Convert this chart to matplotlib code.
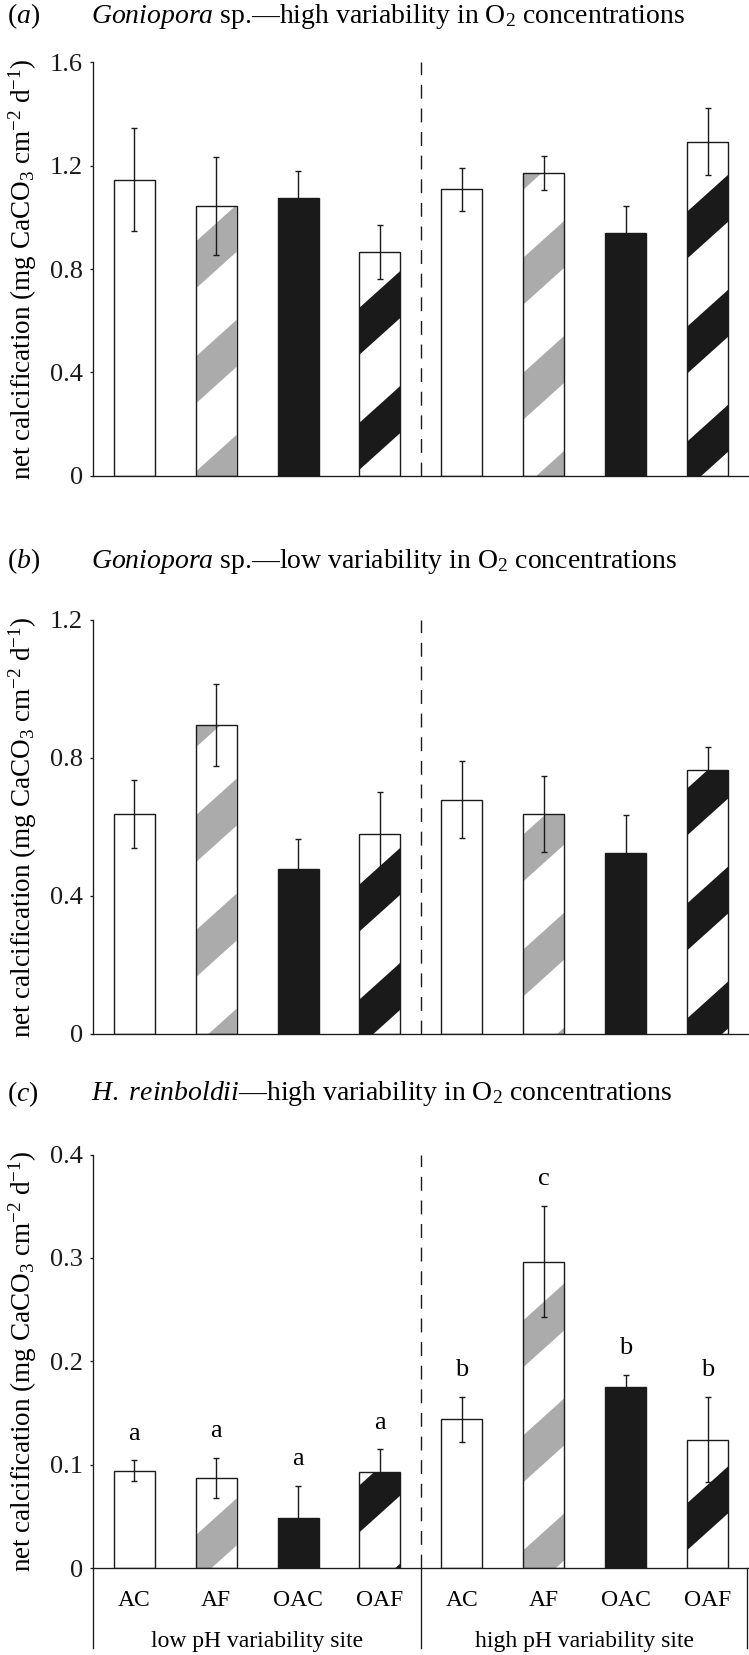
import matplotlib
matplotlib.use("Agg")
import matplotlib.pyplot as plt
from matplotlib.patches import Polygon
from matplotlib.lines import Line2D
from matplotlib.transforms import blended_transform_factory

plt.rcParams['font.family'] = ['Liberation Serif', 'DejaVu Serif']
plt.rcParams['mathtext.fontset'] = 'custom'
plt.rcParams['mathtext.rm'] = 'Liberation Serif'
plt.rcParams['mathtext.it'] = 'Liberation Serif:italic'
plt.rcParams['mathtext.bf'] = 'Liberation Serif:bold'

# ---------------- data ----------------
treatments = ["AC", "AF", "OAC", "OAF", "AC", "AF", "OAC", "OAF"]
sites = ["low pH variability site", "high pH variability site"]

a_mean = [1.146, 1.043, 1.076, 0.865, 1.108, 1.172, 0.938, 1.293]
a_err = [0.200, 0.190, 0.103, 0.105, 0.082, 0.067, 0.107, 0.130]

b_mean = [0.637, 0.895, 0.476, 0.580, 0.679, 0.637, 0.523, 0.765]
b_err = [0.098, 0.118, 0.089, 0.122, 0.113, 0.111, 0.111, 0.067]

c_mean = [0.0945, 0.0874, 0.0484, 0.0929, 0.1439, 0.2965, 0.175, 0.1245]
c_err = [0.010, 0.0195, 0.031, 0.022, 0.022, 0.054, 0.012, 0.041]
c_letters = ["a", "a", "a", "a", "b", "c", "b", "b"]

titles = [r"$\mathit{Goniopora}$ sp.—high variability in O$_2$ concentrations",
          r"$\mathit{Goniopora}$ sp.—low variability in O$_2$ concentrations",
          r"$\mathit{H.\ reinboldii}$—high variability in O$_2$ concentrations"]
panel_tags = [r"($\mathit{a}$)", r"($\mathit{b}$)", r"($\mathit{c}$)"]
yticks_list = [[0, 0.4, 0.8, 1.2, 1.6], [0, 0.4, 0.8, 1.2], [0, 0.1, 0.2, 0.3, 0.4]]
ylabel = r"net calcification (mg CaCO$_3$ cm$^{-2}$ d$^{-1}$)"

# ---------------- style ----------------
W, H = 749, 1655
DARK = "#1a1a1a"
GREY = "#ababab"
face = ["white", "white", DARK, "white"] * 2
stripe = [None, GREY, None, DARK] * 2
# stripe phase (px above bar bottom) per panel / bar
phases = [[0, 72, 0, 6, 0, 56, 0, -13],
          [0, 56, 0, -13, 0, 37, 0, 83],
          [0, -14, 0, 36, 0, 86, 0, 18]]
PERIOD, THICK, SLOPE = 115.0, 47.0, 0.9

fig = plt.figure(figsize=(W / 100, H / 100), dpi=100)

ax_left_px, ax_right_px = 93.3, 748.5
panels_px = [(475.7, 62.3), (1033.5, 620.0), (1568.3, 1154.5)]
title_y = [16.5, 561, 1094]
means = [a_mean, b_mean, c_mean]
errs = [a_err, b_err, c_err]
x = list(range(len(treatments)))


def fy(py):
    return 1 - py / H


def add_stripes(ax, rect, color, phase):
    T = ax.transData
    inv = T.inverted()
    x0, w, h = rect.get_x(), rect.get_width(), rect.get_height()
    px0, py0 = T.transform((x0, 0))
    px1, py1 = T.transform((x0 + w, h))
    wpx = px1 - px0
    base = py0 + phase - 2 * PERIOD
    while base < py1 + PERIOD:
        pts = [(px0, base), (px1, base + SLOPE * wpx),
               (px1, base + SLOPE * wpx + THICK), (px0, base + THICK)]
        poly = Polygon(inv.transform(pts), closed=True, facecolor=color,
                       edgecolor='none', zorder=2.5)
        ax.add_patch(poly)
        poly.set_clip_path(rect.get_path(), rect.get_transform())
        base += PERIOD


axes = []
for i in range(3):
    bot, top = panels_px[i]
    ax = fig.add_axes([ax_left_px / W, fy(bot), (ax_right_px - ax_left_px) / W, (bot - top) / H])
    axes.append(ax)
    yt = yticks_list[i]
    ax.set_xlim(-0.5, 7.5)
    ax.set_ylim(0, yt[-1])
    ax.set_yticks(yt)
    ax.set_yticklabels(["0" if v == 0 else f"{v:.1f}" for v in yt])
    ax.set_xticks([])
    for s in ["top", "right"]:
        ax.spines[s].set_visible(False)
    for s in ["left", "bottom"]:
        ax.spines[s].set_linewidth(0.95)
        ax.spines[s].set_color(DARK)
    ax.tick_params(axis='y', direction='out', length=2.5, width=0.9, pad=5,
                   labelsize=19, colors=DARK)

    bars = ax.bar(x, means[i], width=0.5, color=face, edgecolor='none', zorder=2)
    for j, r in enumerate(bars):
        if stripe[j] is not None:
            add_stripes(ax, r, stripe[j], phases[i][j])
    ax.bar(x, means[i], width=0.5, fill=False, edgecolor=DARK, linewidth=1.0, zorder=3)
    ax.errorbar(x, means[i], yerr=errs[i], fmt='none', ecolor=DARK, elinewidth=1.0,
                capsize=2.5, capthick=1.0, zorder=4)
    ax.plot([3.5, 3.5], [0, yt[-1]], color=DARK, linewidth=1.0,
            dashes=(10, 7), zorder=1, clip_on=False)

    fig.text(7 / W, fy(title_y[i]), panel_tags[i], fontsize=20, va='center', ha='left')
    fig.text(90.7 / W, fy(title_y[i]), titles[i], fontsize=20, va='center', ha='left')
    fig.text(23 / W, fy((bot + top) / 2), ylabel, fontsize=19.5, rotation=90,
             va='center', ha='center')

# significance letters on panel (c)
axc = axes[2]
for j in x:
    axc.text(j, c_mean[j] + c_err[j] + 0.02, c_letters[j], ha='center',
             va='baseline', fontsize=19)

# box with treatment / site labels under panel (c)
bt = blended_transform_factory(axc.transData, fig.transFigure)
for xv in [-0.5, 3.5, 7.48]:
    fig.add_artist(Line2D([xv, xv], [fy(1568.3), fy(1648)], transform=bt,
                          color=DARK, linewidth=0.95))
for j in x:
    fig.text(j, fy(1600.7), treatments[j], transform=bt, ha='center', va='center',
             fontsize=17)
for k, site in enumerate(sites):
    fig.text(1.5 + 4 * k, fy(1641), site, transform=bt, ha='center', va='center',
             fontsize=17)

fig.savefig("out.png", dpi=100)
